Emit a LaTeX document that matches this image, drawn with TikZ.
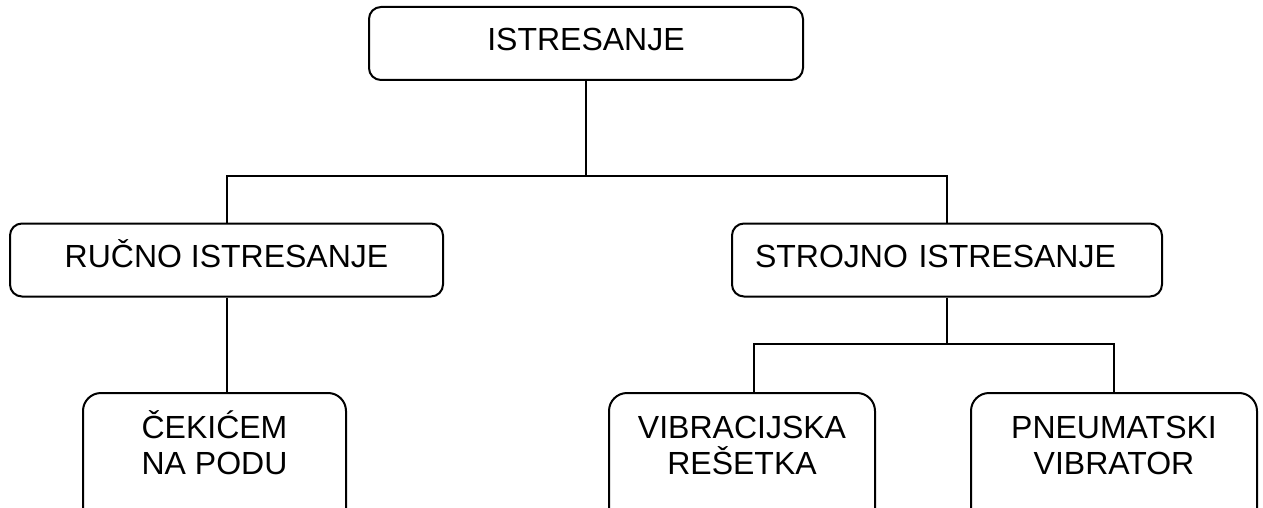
\documentclass[tikz,border=0pt]{standalone}
\usepackage{fontspec}
\setmainfont{Liberation Sans}

\tikzset{
	box/.style={draw, line width=2pt, rounded corners=12pt, inner xsep=0pt, inner ysep=0pt,
		minimum height=73pt, text height=23pt, text depth=8pt,
		font=\fontsize{32}{36}\selectfont},
	leaf/.style={draw, line width=2pt, rounded corners=18pt, inner xsep=0pt, inner ysep=0pt,
		anchor=north, align=center, text height=81pt, text depth=67pt,
		font=\fontsize{32}{36}\selectfont},
	conn/.style={line width=2pt}
}

\begin{document}
\begin{tikzpicture}[x=1pt, y=-1pt]
	\useasboundingbox (0,0) rectangle (1263,508);
	\clip (0,0) rectangle (1263,508);

	\node[box, minimum width=434pt] (top) at (586,43.5) {ISTRESANJE};
	\node[box, minimum width=433pt] (rucno) at (226.5,260) {RUČNO ISTRESANJE};
	\node[box, text width=384pt, inner xsep=23pt, align=left] (strojno) at (947,260) {STROJNO ISTRESANJE};

	\node[leaf, minimum width=263pt] (cekicem) at (214.5,392) {ČEKIĆEM\\NA PODU};
	\node[leaf, minimum width=266pt] (vibra) at (742,392) {VIBRACIJSKA\\REŠETKA};
	\node[leaf, minimum width=286pt] (pneum) at (1114,392) {PNEUMATSKI\\VIBRATOR};

	\coordinate (split1) at (586,176);
	\coordinate (split2) at (947,344);

	\draw[conn] (top) -- (split1);
	\draw[conn] (rucno.north) |- (split1) -| (strojno.north);
	\draw[conn] (rucno.south) -- (rucno.south |- cekicem.north);
	\draw[conn] (strojno) -- (split2);
	\draw[conn] ([xshift=12pt]vibra.north) |- (split2) -| (pneum.north);
\end{tikzpicture}
\end{document}
